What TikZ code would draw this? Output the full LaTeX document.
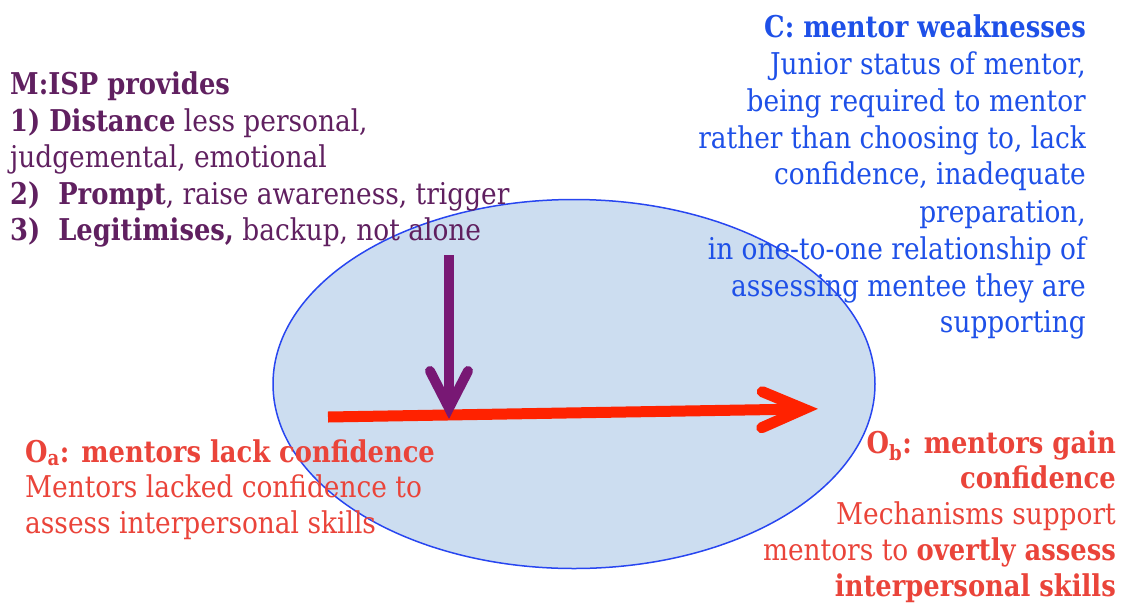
\documentclass[tikz,border=0pt]{standalone}
\usepackage{fontspec}
\setmainfont{DejaVu Serif}[FakeStretch=0.88, BoldFeatures={FakeStretch=0.86}]
\usetikzlibrary{calc,shapes.geometric}
\definecolor{ptext}{RGB}{96,32,96}
\definecolor{parrow}{RGB}{120,24,116}
\definecolor{btext}{RGB}{30,80,232}
\definecolor{rtext}{RGB}{234,68,58}
\definecolor{rarrow}{RGB}{255,34,0}
\definecolor{efill}{RGB}{204,221,240}
\definecolor{eline}{RGB}{40,70,240}
\tikzset{
  txt/.style={inner sep=0pt, font=\fontsize{30}{36.4}\selectfont},
  ptxt/.style={txt, text=ptext, align=left, anchor=north west},
  btxt/.style={txt, text=btext, align=right, anchor=north east, font=\fontsize{30}{37}\selectfont},
  rltxt/.style={txt, text=rtext, align=left, anchor=north west, font=\fontsize{30}{35.8}\selectfont},
  rrtxt/.style={txt, text=rtext, align=right, anchor=north east, font=\fontsize{30}{35.8}\selectfont},
  parr/.style={draw=parrow, line width=10pt},
  rarr/.style={draw=rarrow, line width=11pt},
  chev/.style={line cap=round, line join=miter},
}
\begin{document}
\begin{tikzpicture}[x=1pt,y=-1pt]
\useasboundingbox (0,0) rectangle (1130,603);
\node[draw=eline, fill=efill, line width=1.5pt, ellipse, minimum width=602pt, minimum height=369pt, inner sep=0pt] (ell) at (574,384) {};
\node[ptxt] (misp) at (10,72) {\textbf{M:ISP provides}\\
\textbf{1) Distance} less personal,\\
judgemental, emotional\\
\textbf{2)\ \ Prompt}, raise awareness, trigger\\
\textbf{3)\ \ Legitimises,} backup, not alone};
\node[btxt] (c) at (1086,14) {\textbf{C: mentor weaknesses}\\
Junior status of mentor,\\
being required to mentor\\
rather than choosing to, lack\\
confidence, inadequate\\
preparation,\\
in one-to-one relationship of\\
assessing mentee they are\\
supporting};
\node[rltxt] (oa) at (25,439) {\textbf{O\textsubscript{a}: mentors lack confidence}\\
Mentors lacked confidence to\\
assess interpersonal skills};
\node[rrtxt] (ob) at (1116,430) {\textbf{O\textsubscript{b}: mentors gain}\\
\textbf{confidence}\\
Mechanisms support\\
mentors to \textbf{overtly assess}\\
\textbf{interpersonal skills}};
\coordinate (ps) at (449,255);
\coordinate (pt) at (449,408);
\coordinate (rs) at (328,417);
\coordinate (rt) at (804,409);
\draw[rarr] (rs) -- ($(rt)+(-6,0.1)$);
\draw[rarr, chev] ($(rt)+(-41.7,-17.3)$) -- (rt) -- ($(rt)+(-42.3,18.7)$);
\draw[parr] (ps) -- ($(pt)+(0,-5)$);
\draw[parr, chev] ($(pt)+(-19,-37)$) -- (pt) -- ($(pt)+(19,-37)$);
\end{tikzpicture}
\end{document}
